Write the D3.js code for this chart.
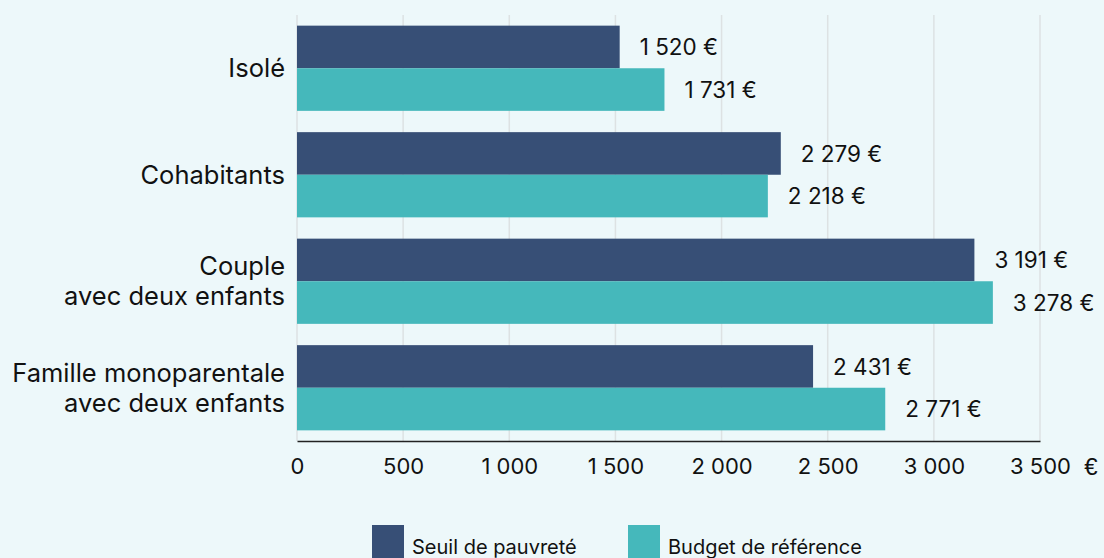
<!DOCTYPE html>
<html>
<head>
<meta charset="utf-8">
<script src="https://cdn.jsdelivr.net/npm/d3@7"></script>
<style>
  body { margin: 0; background: #edf8fa; }
  svg { display: block; font-family: Inter, "Noto Sans", sans-serif; }
  .grid line { stroke: #dde2e3; stroke-width: 1.5; }
</style>
</head>
<body>
<svg id="chart"></svg>
<script>
// donnees
var categories = [["Isolé"], ["Cohabitants"], ["Couple", "avec deux enfants"], ["Famille monoparentale", "avec deux enfants"]];
var seriesNames = ["Seuil de pauvreté", "Budget de référence"];
var seuil = [1520, 2279, 3191, 2431];
var budget = [1731, 2218, 3278, 2771];
var tickValues = [0, 500, 1000, 1500, 2000, 2500, 3000, 3500];
var colors = ["#374f76", "#45b8bb"];

var width = 1104, height = 558;
var margin = {top: 15, left: 297, right: 64, bottom: 117};

var svg = d3.select("#chart")
  .attr("width", width)
  .attr("height", height);

// format francais : 1 520
var fr = d3.formatLocale({decimal: ",", thousands: " ", grouping: [3], currency: ["", " €"]});
var fmt = fr.format(",d");

var x = d3.scaleLinear().domain([0, 3500]).range([margin.left, width - margin.right]);
var y = d3.scaleBand().domain(d3.range(categories.length))
  .range([margin.top, height - margin.bottom])
  .paddingInner(0.2).paddingOuter(0.1);
var half = y.bandwidth() / 2;

// grille verticale
svg.append("g").attr("class", "grid")
  .selectAll("line").data(tickValues).join("line")
  .attr("x1", d => x(d)).attr("x2", d => x(d))
  .attr("y1", margin.top).attr("y2", height - margin.bottom);

// barres
var data = [];
categories.forEach(function(c, i) {
  data.push({i: i, s: 0, v: seuil[i]});
  data.push({i: i, s: 1, v: budget[i]});
});

svg.append("g").selectAll("rect").data(data).join("rect")
  .attr("x", x(0))
  .attr("y", d => y(d.i) + d.s * half)
  .attr("width", d => x(d.v) - x(0))
  .attr("height", half)
  .attr("fill", d => colors[d.s]);

// etiquettes de valeurs
svg.append("g").selectAll("text").data(data).join("text")
  .attr("x", d => x(d.v) + 20)
  .attr("y", d => y(d.i) + d.s * half + half / 2)
  .attr("dy", "0.36em")
  .style("font-size", "22.5px")
  .attr("fill", "#111")
  .text(d => fmt(d.v) + " €");

// categories
var catG = svg.append("g").selectAll("text").data(categories).join("text")
  .attr("text-anchor", "end")
  .style("font-size", "25.5px")
  .attr("fill", "#111")
  .attr("transform", (d, i) => "translate(" + (margin.left - 12) + "," + (y(i) + y.bandwidth() / 2) + ")");
catG.selectAll("tspan").data(d => d.map((t, k) => ({t: t, k: k, n: d.length}))).join("tspan")
  .attr("x", 0)
  .attr("y", d => (d.k - (d.n - 1) / 2) * 30)
  .attr("dy", "0.36em")
  .text(d => d.t);

// axe x
var xAxis = d3.axisBottom(x).tickValues(tickValues).tickSize(0).tickPadding(17)
  .tickFormat(fmt);
var ax = svg.append("g")
  .attr("transform", "translate(0," + (height - margin.bottom) + ")")
  .call(xAxis);
ax.select(".domain").attr("stroke", "#222").attr("stroke-width", 1.5);
ax.selectAll("text").style("font-size", "22px").style("font-family", "Inter, sans-serif").attr("fill", "#111");
ax.append("text")
  .attr("x", x(3500) + 51).attr("y", 17).attr("dy", "0.71em")
  .attr("text-anchor", "middle")
  .style("font-size", "24px").attr("fill", "#111")
  .text("€");

// legende
var legend = svg.append("g").selectAll("g").data(seriesNames).join("g")
  .attr("transform", (d, i) => "translate(" + [372, 628][i] + ",525)");
legend.append("rect").attr("width", 32).attr("height", 40).attr("fill", (d, i) => colors[i]);
legend.append("text").attr("x", 40).attr("y", 29)
  .style("font-size", "20px").attr("fill", "#111")
  .text(d => d);
</script>
</body>
</html>
